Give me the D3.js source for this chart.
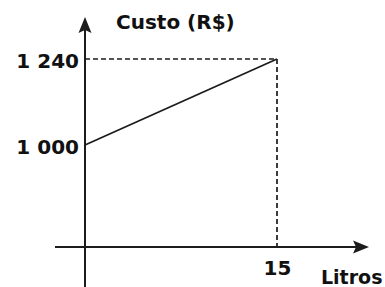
<!DOCTYPE html>
<html>
<head>
<meta charset="utf-8">
<script src="https://cdn.jsdelivr.net/npm/d3@7"></script>
<style>
  body { margin: 0; background: #fff; }
  svg text { font-family: "DejaVu Sans", sans-serif; font-weight: bold; fill: #111; }
</style>
</head>
<body>
<svg id="plot" width="385" height="287"></svg>
<script>
// data
const litros = [0, 15];
const custo = [1000, 1240];
const xTicks = [15];
const yTicks = [1000, 1240];
const yTitle = "Custo (R$)";
const xTitle = "Litros";

const INK = "#1c1c1c";
const svg = d3.select("#plot");

// origin of the axes sits below the value 1000, the y scale only spans the drawn values
const x = d3.scaleLinear().domain([0, 15]).range([85, 277]);
const y = d3.scaleLinear().domain([1000, 1240]).range([145, 59]);
const axisY = 247;

const fmt = d => d3.format(",")(d).replace(",", " ");

// dashed guides to the end point
const last = litros.length - 1;
svg.append("path")
	.attr("d", `M${x(0)},${y(custo[last])}H${x(litros[last])}V${axisY}`)
	.attr("fill", "none")
	.attr("stroke", INK)
	.attr("stroke-width", 1.7)
	.attr("stroke-dasharray", "5,3");

// axes lines with arrows
svg.append("line")
	.attr("x1", 55).attr("x2", 356)
	.attr("y1", axisY).attr("y2", axisY)
	.attr("stroke", INK).attr("stroke-width", 2);
svg.append("path")
	.attr("d", `M369,${axisY}L353,${axisY - 6.5}L356,${axisY}L353,${axisY + 6.5}Z`)
	.attr("fill", INK);

svg.append("line")
	.attr("x1", x(0)).attr("x2", x(0))
	.attr("y1", 30).attr("y2", 287)
	.attr("stroke", INK).attr("stroke-width", 2);
svg.append("path")
	.attr("d", `M${x(0)},17L${x(0) - 6.5},33L${x(0)},30L${x(0) + 6.5},33Z`)
	.attr("fill", INK);

// tick labels through d3 axes
const gy = svg.append("g")
	.attr("transform", `translate(${x(0)},0)`)
	.call(d3.axisLeft(y).tickValues(yTicks).tickSize(0).tickPadding(6).tickFormat(fmt));
gy.select(".domain").remove();
gy.selectAll("text").attr("font-size", 20).attr("dy", "0.4em")
	.style("font-family", null);

const gx = svg.append("g")
	.attr("transform", `translate(0,${axisY})`)
	.call(d3.axisBottom(x).tickValues(xTicks).tickSize(0).tickPadding(14).tickFormat(d3.format("d")));
gx.select(".domain").remove();
gx.selectAll("text").attr("font-size", 20).style("font-family", null);

// the cost line
svg.append("path")
	.datum(litros.map((l, i) => [l, custo[i]]))
	.attr("d", d3.line().x(d => x(d[0])).y(d => y(d[1])))
	.attr("fill", "none")
	.attr("stroke", INK)
	.attr("stroke-width", 1.8);

// titles
svg.append("text").attr("x", 116).attr("y", 29).attr("font-size", 20).text(yTitle);
svg.append("text").attr("x", 321).attr("y", 284).attr("font-size", 19).text(xTitle);
</script>
</body>
</html>
